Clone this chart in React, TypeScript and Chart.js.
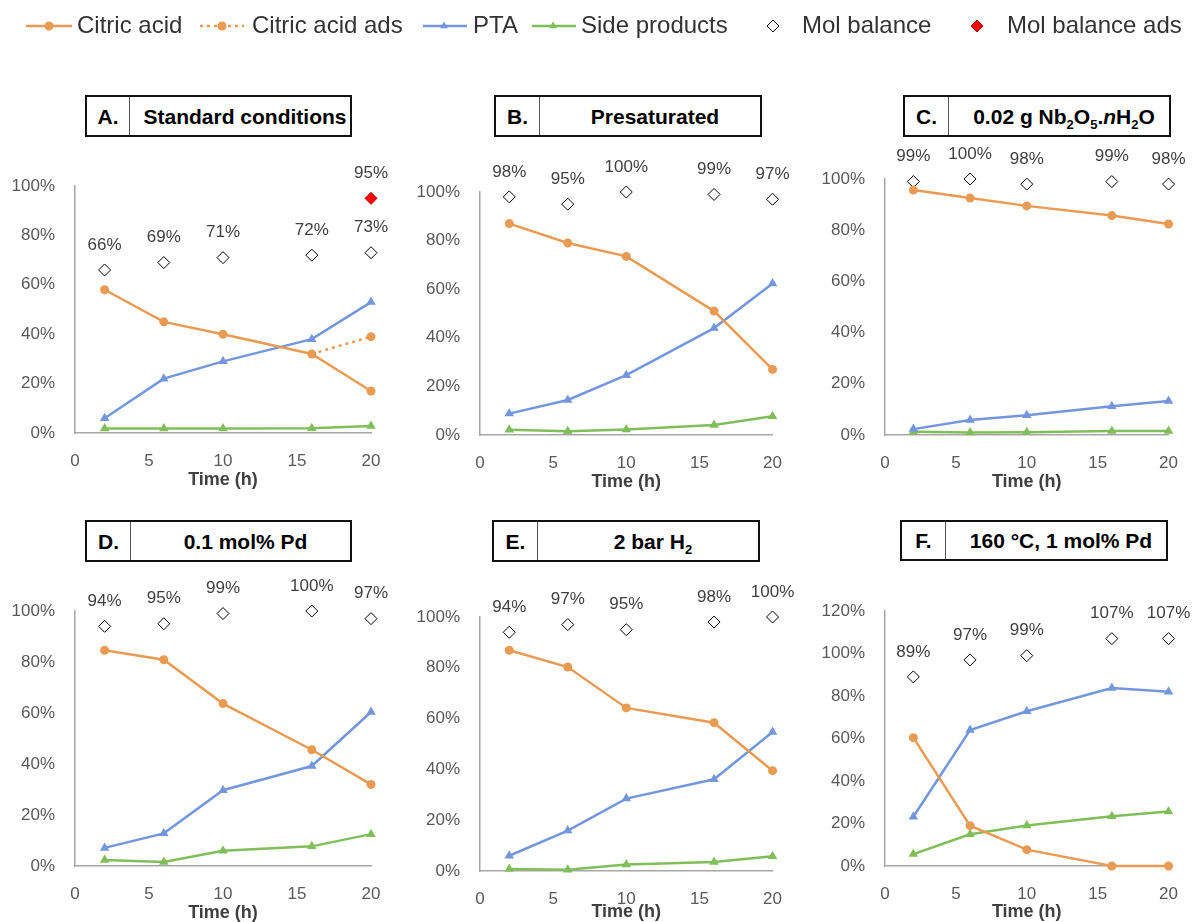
import React, { useEffect, useRef } from "react";
import { Chart, registerables } from "chart.js";

Chart.register(...registerables);

const FONT = '"Liberation Sans", Arial, sans-serif';
Chart.defaults.font.family = FONT;

// ---------- DATA ----------
const times = [2, 6, 10, 16, 20];
const adsTimes = [16, 20];
const adsMolTimes = [20];
const xTicks = [0, 5, 10, 15, 20];

const citricA = [58, 45, 40, 32, 17];
const citricAdsA = [32, 39];
const ptaA = [6, 22, 29, 38, 53];
const sideA = [1.8, 1.8, 1.8, 1.9, 2.8];
const molA = [66, 69, 71, 72, 73];
const molAdsA = [95];

const citricB = [87, 79, 73.5, 51, 27];
const ptaB = [8.8, 14.4, 24.6, 44, 62.3];
const sideB = [2.2, 1.5, 2.3, 4.1, 7.7];
const molB = [98, 95, 100, 99, 97];

const citricC = [95.7, 92.6, 89.5, 85.7, 82.4];
const ptaC = [2.3, 5.9, 7.7, 11.2, 13.3];
const sideC = [1.3, 1.0, 1.1, 1.6, 1.6];
const molC = [99, 100, 98, 99, 98];

const citricD = [84.6, 80.9, 63.7, 45.6, 32.0];
const ptaD = [7.1, 12.8, 29.7, 39.2, 60.4];
const sideD = [2.4, 1.6, 6.0, 7.7, 12.5];
const molD = [94, 95, 99, 100, 97];

const citricE = [86.9, 80.3, 64.2, 58.4, 39.5];
const ptaE = [6.0, 15.9, 28.5, 36.1, 54.7];
const sideE = [0.8, 0.5, 2.6, 3.5, 5.8];
const molE = [94, 97, 95, 98, 100];

const citricF = [60.4, 19.0, 7.7, 0, 0];
const ptaF = [23.2, 64.0, 72.8, 83.8, 82.0];
const sideF = [5.6, 14.9, 19.1, 23.4, 25.7];
const molF = [89, 97, 99, 107, 107];

const legendLabels = [
  "Citric acid",
  "Citric acid ads",
  "PTA",
  "Side products",
  "Mol balance",
  "Mol balance ads",
];

// ---------- STYLES ----------
const ORANGE = "#E99B53";
const BLUE = "#7396DC";
const GREEN = "#80BE5A";
const AXIS = "#a6a6a6";
const TICK = "#595959";
const TEXT = "#404040";

type Geo = {
  L: number; T: number; W: number; H: number;
  left: number; right: number; top: number; bottom: number; titleY: number;
};
type Box = { x: number; y: number; w: number; h: number; div: number };
type PanelCfg = {
  letter: string;
  title: React.ReactNode;
  citric: number[];
  pta: number[];
  side: number[];
  mol: number[];
  citricAds?: number[];
  molAds?: number[];
  yMax: number;
  box: Box;
  geo: Geo;
};

const panels: PanelCfg[] = [
  {
    letter: "A.", title: "Standard conditions",
    citric: citricA, pta: ptaA, side: sideA, mol: molA, citricAds: citricAdsA, molAds: molAdsA,
    yMax: 100,
    box: { x: 85, y: 95, w: 267, h: 42, div: 129 },
    geo: { L: 0, T: 140, W: 400, H: 370, left: 75, right: 371, top: 186, bottom: 433, titleY: 480 },
  },
  {
    letter: "B.", title: "Presaturated",
    citric: citricB, pta: ptaB, side: sideB, mol: molB,
    yMax: 100,
    box: { x: 494, y: 95, w: 268, h: 42, div: 539 },
    geo: { L: 400, T: 140, W: 400, H: 370, left: 480, right: 776, top: 192, bottom: 435, titleY: 482 },
  },
  {
    letter: "C.",
    title: (
      <span>
        0.02 g Nb<sub>2</sub>O<sub>5</sub>.<i>n</i>H<sub>2</sub>O
      </span>
    ),
    citric: citricC, pta: ptaC, side: sideC, mol: molC,
    yMax: 100,
    box: { x: 903, y: 95, w: 268, h: 42, div: 948 },
    geo: { L: 796, T: 140, W: 400, H: 370, left: 885, right: 1182, top: 179, bottom: 435, titleY: 482 },
  },
  {
    letter: "D.", title: "0.1 mol% Pd",
    citric: citricD, pta: ptaD, side: sideD, mol: molD,
    yMax: 100,
    box: { x: 85, y: 520, w: 267, h: 42, div: 130 },
    geo: { L: 0, T: 565, W: 400, H: 365, left: 75, right: 371, top: 611, bottom: 866, titleY: 913 },
  },
  {
    letter: "E.",
    title: (
      <span>
        2 bar H<sub>2</sub>
      </span>
    ),
    citric: citricE, pta: ptaE, side: sideE, mol: molE,
    yMax: 100,
    box: { x: 492, y: 520, w: 268, h: 42, div: 537 },
    geo: { L: 400, T: 565, W: 400, H: 365, left: 480, right: 776, top: 617, bottom: 871, titleY: 912 },
  },
  {
    letter: "F.", title: "160 °C, 1 mol% Pd",
    citric: citricF, pta: ptaF, side: sideF, mol: molF,
    yMax: 120,
    box: { x: 900, y: 520, w: 268, h: 41, div: 945 },
    geo: { L: 796, T: 565, W: 400, H: 365, left: 885, right: 1181, top: 611, bottom: 866, titleY: 912 },
  },
];

// ---------- PLUGINS ----------
const molLabelPlugin = {
  id: "molLabels",
  afterDatasetsDraw(chart: any) {
    const ctx = chart.ctx;
    chart.data.datasets.forEach((ds: any, i: number) => {
      if (!ds.molLabel) return;
      const meta = chart.getDatasetMeta(i);
      meta.data.forEach((pt: any, j: number) => {
        const v = ds.data[j].y;
        ctx.save();
        ctx.font = `17px ${FONT}`;
        ctx.fillStyle = TEXT;
        ctx.textAlign = "center";
        ctx.textBaseline = "middle";
        ctx.fillText(`${v}%`, pt.x, pt.y - 25);
        ctx.restore();
      });
    });
  },
};

function drawMarker(ctx: CanvasRenderingContext2D, style: string, x: number, y: number, r: number, fill: string, stroke: string, bw: number) {
  ctx.beginPath();
  if (style === "circle") {
    ctx.arc(x, y, r, 0, Math.PI * 2);
  } else if (style === "triangle") {
    for (let k = 0; k < 3; k++) {
      const a = -Math.PI / 2 + (k * 2 * Math.PI) / 3;
      const px = x + Math.cos(a) * r;
      const py = y + Math.sin(a) * r;
      if (k === 0) ctx.moveTo(px, py);
      else ctx.lineTo(px, py);
    }
    ctx.closePath();
  } else {
    ctx.moveTo(x, y - r);
    ctx.lineTo(x + r, y);
    ctx.lineTo(x, y + r);
    ctx.lineTo(x - r, y);
    ctx.closePath();
  }
  ctx.fillStyle = fill;
  ctx.fill();
  if (bw > 0) {
    ctx.lineWidth = bw;
    ctx.strokeStyle = stroke;
    ctx.stroke();
  }
}

// legend layout: [line start, line end, marker x, text x]
const legendLayout = [
  [26, 72, 49, 77],
  [200, 244, 222, 252],
  [423, 467, 444, 473],
  [532, 576, 553, 581],
  [773, 773, 773, 802],
  [977, 977, 977, 1007],
];

const legendPlugin = {
  id: "customLegend",
  afterDraw(chart: any) {
    const ctx = chart.ctx;
    const cy = 26;
    chart.data.datasets.forEach((ds: any, i: number) => {
      const [x0, x1, mx, tx] = legendLayout[i];
      ctx.save();
      if (ds.showLine !== false) {
        ctx.beginPath();
        ctx.setLineDash(ds.borderDash || []);
        ctx.lineWidth = ds.borderWidth;
        ctx.strokeStyle = ds.borderColor;
        ctx.moveTo(x0, cy);
        ctx.lineTo(x1, cy);
        ctx.stroke();
        ctx.setLineDash([]);
      }
      drawMarker(ctx, ds.pointStyle, mx, cy, ds.legendRadius, ds.pointBackgroundColor, ds.pointBorderColor, ds.pointBorderWidth);
      ctx.font = `24px ${FONT}`;
      ctx.fillStyle = "#333333";
      ctx.textAlign = "left";
      ctx.textBaseline = "middle";
      ctx.fillText(ds.label, tx, cy);
      ctx.restore();
    });
  },
};

// ---------- CONFIG ----------
const lineBase = {
  borderWidth: 2.5,
  tension: 0,
  clip: false as any,
  pointBorderWidth: 0,
};

function buildConfig(p: PanelCfg): any {
  const g = p.geo;
  const yW = g.left - g.L;
  const half = (18 * 1.2) / 2;
  const xH = g.titleY + half - g.bottom;
  const datasets: any[] = [
    {
      ...lineBase,
      label: legendLabels[0],
      data: times.map((t, i) => ({ x: t, y: p.citric[i] })),
      borderColor: ORANGE,
      backgroundColor: ORANGE,
      pointBackgroundColor: ORANGE,
      pointStyle: "circle",
      pointRadius: 4.5,
    },
  ];
  if (p.citricAds) {
    datasets.push({
      ...lineBase,
      label: legendLabels[1],
      data: adsTimes.map((t, i) => ({ x: t, y: p.citricAds![i] })),
      borderColor: ORANGE,
      backgroundColor: ORANGE,
      pointBackgroundColor: ORANGE,
      borderDash: [3, 4],
      pointStyle: "circle",
      pointRadius: [0, 4.5],
    });
  }
  datasets.push(
    {
      ...lineBase,
      label: legendLabels[2],
      data: times.map((t, i) => ({ x: t, y: p.pta[i] })),
      borderColor: BLUE,
      backgroundColor: BLUE,
      pointBackgroundColor: BLUE,
      pointStyle: "triangle",
      pointRadius: 5.5,
    },
    {
      ...lineBase,
      label: legendLabels[3],
      data: times.map((t, i) => ({ x: t, y: p.side[i] })),
      borderColor: GREEN,
      backgroundColor: GREEN,
      pointBackgroundColor: GREEN,
      pointStyle: "triangle",
      pointRadius: 5.5,
    },
    {
      label: legendLabels[4],
      data: times.map((t, i) => ({ x: t, y: p.mol[i] })),
      showLine: false,
      clip: false,
      pointStyle: "rectRot",
      pointRadius: 6,
      pointBackgroundColor: "#ffffff",
      pointBorderColor: "#000000",
      pointBorderWidth: 1,
      molLabel: true,
    }
  );
  if (p.molAds) {
    datasets.push({
      label: legendLabels[5],
      data: adsMolTimes.map((t, i) => ({ x: t, y: p.molAds![i] })),
      showLine: false,
      clip: false,
      pointStyle: "rectRot",
      pointRadius: 6,
      pointBackgroundColor: "#ff0000",
      pointBorderColor: "#b00000",
      pointBorderWidth: 1,
      molLabel: true,
    });
  }
  return {
    type: "line",
    data: { datasets },
    plugins: [molLabelPlugin],
    options: {
      animation: false,
      responsive: false,
      events: [],
      layout: {
        padding: {
          left: 0,
          right: g.L + g.W - g.right,
          top: g.top - g.T,
          bottom: g.T + g.H - (g.titleY + half),
        },
      },
      plugins: { legend: { display: false }, tooltip: { enabled: false } },
      scales: {
        x: {
          type: "linear",
          min: 0,
          max: 20,
          afterBuildTicks: (s: any) => {
            s.ticks = xTicks.map((v) => ({ value: v }));
          },
          afterFit: (s: any) => {
            s.height = xH;
          },
          grid: { display: false, drawTicks: false },
          border: { display: true, color: AXIS, width: 1.5 },
          ticks: { color: TICK, font: { size: 17 }, padding: 18, maxRotation: 0 },
          title: {
            display: true,
            text: "Time (h)",
            color: TEXT,
            font: { size: 18, weight: "bold", lineHeight: 1.2 },
            padding: 0,
          },
        },
        y: {
          min: 0,
          max: p.yMax,
          afterFit: (s: any) => {
            s.width = yW;
          },
          grid: { display: false, drawTicks: false },
          border: { display: true, color: AXIS, width: 1.5 },
          ticks: {
            stepSize: 20,
            color: TICK,
            font: { size: 17 },
            padding: 20,
            callback: (v: any) => `${v}%`,
          },
        },
      },
    },
  };
}

function Panel({ p }: { p: PanelCfg }) {
  const ref = useRef<HTMLCanvasElement>(null);
  useEffect(() => {
    const chart = new Chart(ref.current as HTMLCanvasElement, buildConfig(p));
    return () => chart.destroy();
  }, [p]);
  return (
    <canvas
      ref={ref}
      width={p.geo.W}
      height={p.geo.H}
      style={{ position: "absolute", left: p.geo.L, top: p.geo.T, width: p.geo.W, height: p.geo.H }}
    />
  );
}

function Legend() {
  const ref = useRef<HTMLCanvasElement>(null);
  useEffect(() => {
    const mk = (i: number, color: string, style: string, r: number, extra: any = {}) => ({
      label: legendLabels[i],
      data: [],
      borderColor: color,
      borderWidth: 2.5,
      pointStyle: style,
      pointBackgroundColor: color,
      pointBorderColor: color,
      pointBorderWidth: 0,
      legendRadius: r,
      ...extra,
    });
    const datasets = [
      mk(0, ORANGE, "circle", 4.5),
      mk(1, ORANGE, "circle", 4.5, { borderDash: [3, 4] }),
      mk(2, BLUE, "triangle", 4.5),
      mk(3, GREEN, "triangle", 4.5),
      mk(4, "#000", "rectRot", 6, { showLine: false, pointBackgroundColor: "#fff", pointBorderColor: "#000", pointBorderWidth: 1 }),
      mk(5, "#f00", "rectRot", 6, { showLine: false, pointBackgroundColor: "#ff0000", pointBorderColor: "#b00000", pointBorderWidth: 1 }),
    ];
    const chart = new Chart(ref.current as HTMLCanvasElement, {
      type: "line",
      data: { datasets } as any,
      plugins: [legendPlugin],
      options: {
        animation: false,
        responsive: false,
        events: [],
        plugins: { legend: { display: false }, tooltip: { enabled: false } },
        scales: { x: { display: false }, y: { display: false } },
      },
    } as any);
    return () => chart.destroy();
  }, []);
  return (
    <canvas ref={ref} width={1196} height={60} style={{ position: "absolute", left: 0, top: 0, width: 1196, height: 60 }} />
  );
}

function TitleBox({ p }: { p: PanelCfg }) {
  const b = p.box;
  return (
    <div
      style={{
        position: "absolute",
        left: b.x,
        top: b.y,
        width: b.w,
        height: b.h,
        boxSizing: "border-box",
        border: "2px solid #111",
        display: "flex",
        fontFamily: FONT,
        fontWeight: "bold",
        fontSize: 21,
        color: "#000",
        lineHeight: "21px",
        background: "#fff",
        zIndex: 2,
      }}
    >
      <div
        style={{
          width: b.div - b.x - 2,
          borderRight: "1px solid #555",
          display: "flex",
          alignItems: "center",
          justifyContent: "center",
        }}
      >
        {p.letter}
      </div>
      <div
        style={{
          flex: 1,
          display: "flex",
          alignItems: "center",
          justifyContent: "center",
          paddingLeft: 10,
        }}
      >
        {p.title}
      </div>
    </div>
  );
}

export default function App() {
  return (
    <div
      style={{
        position: "fixed",
        left: 0,
        top: 0,
        width: 1196,
        height: 922,
        overflow: "hidden",
        background: "#ffffff",
      }}
    >
      <style>{`sub{font-size:13px;line-height:0;vertical-align:-5px;}`}</style>
      <Legend />
      {panels.map((p, i) => (
        <Panel key={"p" + i} p={p} />
      ))}
      {panels.map((p, i) => (
        <TitleBox key={"t" + i} p={p} />
      ))}
    </div>
  );
}
